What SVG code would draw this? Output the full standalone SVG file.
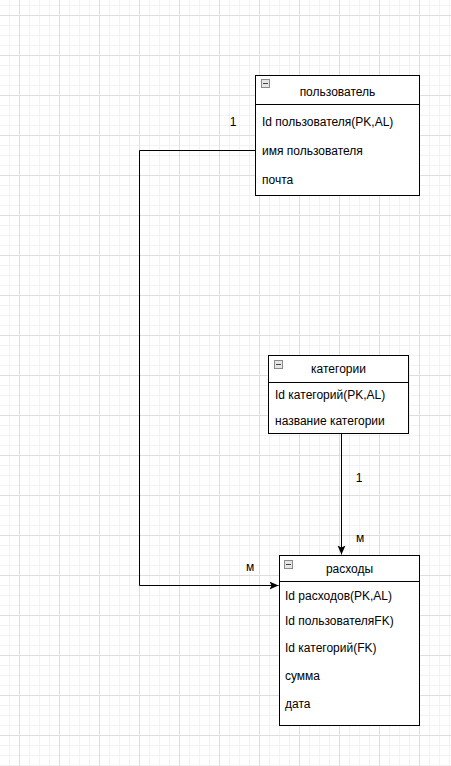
<svg xmlns="http://www.w3.org/2000/svg" width="451" height="766" viewBox="0 0 451 766">
<style>
.box{fill:#fff;stroke:#000;stroke-width:1}
.sep{stroke:#000;stroke-width:1}
.t{font-family:"Liberation Sans",Arial,sans-serif;font-size:12px;fill:#000}
.h{text-anchor:middle}
.icon{fill:#e6e6e6;stroke:#8a8a8a;stroke-width:1}
.minus{stroke:#444;stroke-width:1}
.edge{fill:none;stroke:#000;stroke-width:1}
</style>
<defs>
<pattern id="grid" width="40" height="40" patternUnits="userSpaceOnUse" x="19" y="15">
<path d="M10.5 0V40M20.5 0V40M30.5 0V40M0 10.5H40M0 20.5H40M0 30.5H40" stroke="#f2f2f2" stroke-width="1" fill="none"/>
<path d="M0.5 0V40M0 0.5H40" stroke="#dedede" stroke-width="1" fill="none"/>
</pattern>
<marker id="arr" markerWidth="10" markerHeight="10" viewBox="0 0 10 10" refX="9" refY="5" orient="auto" markerUnits="userSpaceOnUse">
<path d="M0,1 L9,5 L0,9 L2,5 Z" fill="#000"/>
</marker>
</defs>
<rect width="451" height="766" fill="#fff"/>
<rect width="451" height="766" fill="url(#grid)"/>

<g id="connectors">
<path class="edge" d="M255.5,150.5 H139.5 V585.5 H278.5" marker-end="url(#arr)"/>
<path class="edge" d="M341.5,433.5 V554.5" marker-end="url(#arr)"/>
<text class="t" x="233" y="126" text-anchor="middle">1</text>
<text class="t" x="250" y="571" text-anchor="middle">м</text>
<text class="t" x="359" y="482" text-anchor="middle">1</text>
<text class="t" x="360" y="542" text-anchor="middle">м</text>
</g>

<g id="node-user">
<rect class="box" x="255.5" y="75.5" width="164" height="120"/>
<line class="sep" x1="255.5" y1="104.5" x2="419.5" y2="104.5"/>
<rect class="icon" x="261.5" y="79.5" width="8" height="8"/>
<line class="minus" x1="263" y1="83.5" x2="268" y2="83.5"/>
<text class="t h" x="337.5" y="96">пользователь</text>
<text class="t" x="262" y="126">Id пользователя(PK,AL)</text>
<text class="t" x="262" y="155">имя пользователя</text>
<text class="t" x="262" y="184">почта</text>
</g>

<g id="node-categories">
<rect class="box" x="268.5" y="355.5" width="140" height="78"/>
<line class="sep" x1="268.5" y1="382.5" x2="408.5" y2="382.5"/>
<rect class="icon" x="274.5" y="360.5" width="8" height="8"/>
<line class="minus" x1="276" y1="364.5" x2="281" y2="364.5"/>
<text class="t h" x="338.5" y="372.5">категории</text>
<text class="t" x="275" y="399">Id категорий(PK,AL)</text>
<text class="t" x="275" y="425">название категории</text>
</g>

<g id="node-expenses">
<rect class="box" x="279.5" y="555.5" width="140" height="170"/>
<line class="sep" x1="279.5" y1="581.5" x2="419.5" y2="581.5"/>
<rect class="icon" x="284.5" y="560.5" width="8" height="8"/>
<line class="minus" x1="286" y1="564.5" x2="291" y2="564.5"/>
<text class="t h" x="349.5" y="572.5">расходы</text>
<text class="t" x="285" y="600">Id расходов(PK,AL)</text>
<text class="t" x="285" y="625">Id пользователяFK)</text>
<text class="t" x="285" y="651.5">Id категорий(FK)</text>
<text class="t" x="285" y="680">сумма</text>
<text class="t" x="285" y="708">дата</text>
</g>
</svg>
